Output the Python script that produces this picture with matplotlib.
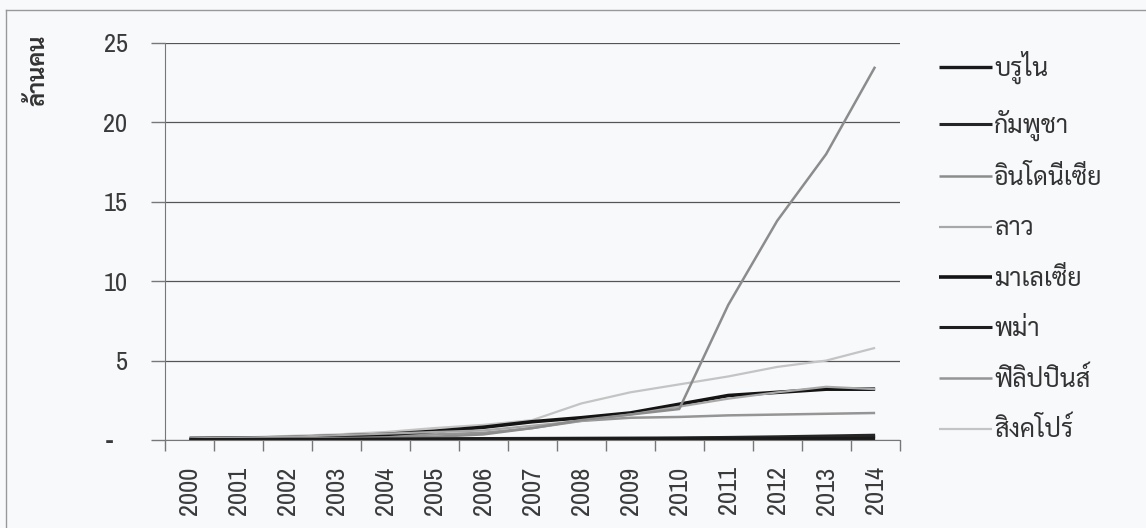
import matplotlib
matplotlib.use("Agg")
import matplotlib.pyplot as plt
from matplotlib import font_manager
from matplotlib.transforms import ScaledTranslation

# Data (ล้านคน)
years = list(range(2000, 2015))
countries = ["บรูไน", "กัมพูชา", "อินโดนีเซีย", "ลาว", "มาเลเซีย", "พม่า", "ฟิลิปปินส์", "สิงคโปร์"]
brunei = [0.02, 0.02, 0.03, 0.03, 0.04, 0.04, 0.05, 0.05, 0.06, 0.06, 0.07, 0.07, 0.08, 0.08, 0.09]
cambodia = [0.00, 0.01, 0.02, 0.03, 0.05, 0.07, 0.09, 0.10, 0.11, 0.12, 0.13, 0.16, 0.20, 0.25, 0.30]
indonesia = [0.05, 0.07, 0.10, 0.12, 0.15, 0.20, 0.35, 0.75, 1.25, 1.60, 1.95, 8.5, 13.8, 18.0, 23.5]
laos = [0.10, 0.15, 0.20, 0.30, 0.40, 0.50, 0.60, 0.90, 1.20, 1.60, 2.10, 2.60, 3.00, 3.35, 3.20]
malaysia = [0.10, 0.12, 0.15, 0.25, 0.35, 0.55, 0.80, 1.15, 1.40, 1.70, 2.25, 2.80, 3.00, 3.20, 3.20]
myanmar = [0.01, 0.01, 0.02, 0.02, 0.03, 0.04, 0.05, 0.06, 0.07, 0.08, 0.10, 0.12, 0.14, 0.16, 0.20]
philippines = [0.05, 0.08, 0.12, 0.18, 0.25, 0.35, 0.45, 0.75, 1.20, 1.40, 1.45, 1.55, 1.60, 1.65, 1.70]
singapore = [0.10, 0.15, 0.25, 0.35, 0.50, 0.75, 0.95, 1.25, 2.30, 3.00, 3.50, 4.00, 4.60, 5.00, 5.80]
series = [brunei, cambodia, indonesia, laos, malaysia, myanmar, philippines, singapore]

colors = ["#1a1a1a", "#262626", "#8c8c8c", "#a8a8a8", "#141414", "#1e1e1e", "#959595", "#c4c4c4"]
widths = [2.4, 2.2, 1.8, 1.6, 2.6, 2.2, 1.8, 1.6]

yticks = [0, 5, 10, 15, 20, 25]
ytick_labels = ["-", "5", "10", "15", "20", "25"]


def pick(names):
    have = {f.name for f in font_manager.fontManager.ttflist}
    for n in names:
        if n in have:
            return n
    return "DejaVu Sans"


thai_font = pick(["Sarabun", "Noto Sans Thai Looped", "Noto Sans Thai", "Anuphan", "Bai Jamjuree"])
num_font = pick(["Liberation Sans Narrow", "Archivo Narrow", "Roboto Condensed", "Open Sans"])
plt.rcParams["font.family"] = [thai_font, "DejaVu Sans"]

bg = "#f8f9fb"
fig = plt.figure(figsize=(11.46, 5.28), dpi=100, facecolor=bg)
ax = fig.add_axes([0.144, 0.1667, 0.641, 0.752])
ax.set_facecolor(bg)

x = list(range(len(years)))
# draw in reverse so the first legend entries end up on top
for vals, name, c, lw in reversed(list(zip(series, countries, colors, widths))):
    ax.plot(x, vals, color=c, lw=lw, label=name, solid_capstyle="butt")

ax.set_xlim(-0.5, len(years) - 0.5)
ax.set_ylim(0, 25)
ax.set_yticks(yticks)
ax.set_yticklabels(ytick_labels, family=num_font, fontsize=19, color="#3a3a3a")
ax.set_xticks([i + 0.5 for i in range(-1, len(years))], minor=False)
ax.set_xticklabels([])
ax.set_xticks(x, minor=True)
ax.set_xticklabels([str(y) for y in years], minor=True, rotation=90,
                   family=num_font, fontsize=19, color="#3a3a3a")
ax.tick_params(axis="x", which="minor", length=0, pad=19)
ax.tick_params(axis="x", which="major", length=8, color="#777777", width=1)
ax.tick_params(axis="y", length=10, color="#777777", width=1, pad=17)

ax.grid(axis="y", color="#555555", lw=0.9)
ax.set_axisbelow(True)
for s in ["top", "right"]:
    ax.spines[s].set_visible(False)
ax.spines["left"].set_color("#777777")
ax.spines["bottom"].set_color("#777777")

# accounting-style zero label sits further left
for lbl in ax.get_yticklabels():
    if lbl.get_text() == "-":
        lbl.set_transform(lbl.get_transform() + ScaledTranslation(-0.15, 0, fig.dpi_scale_trans))

fig.text(0.033, 1 - 70 / 528, "ล้านคน", rotation=90, ha="center", va="center",
         fontsize=17, fontweight="bold", color="#333333")

handles, labels = ax.get_legend_handles_labels()
leg = fig.legend(handles[::-1], labels[::-1], loc="upper left", bbox_to_anchor=(0.8, 0.946),
                 frameon=False, fontsize=18, handlelength=2.1, handletextpad=0.1,
                 labelspacing=1.01, labelcolor="#333333")

# outer chart-area border
fig.add_artist(plt.Line2D([6 / 1146, 1.0], [1 - 10 / 528] * 2, color="#999999", lw=1))
fig.add_artist(plt.Line2D([6 / 1146] * 2, [0, 1 - 10 / 528], color="#999999", lw=1))

fig.savefig("out.png", dpi=100, facecolor=bg)
